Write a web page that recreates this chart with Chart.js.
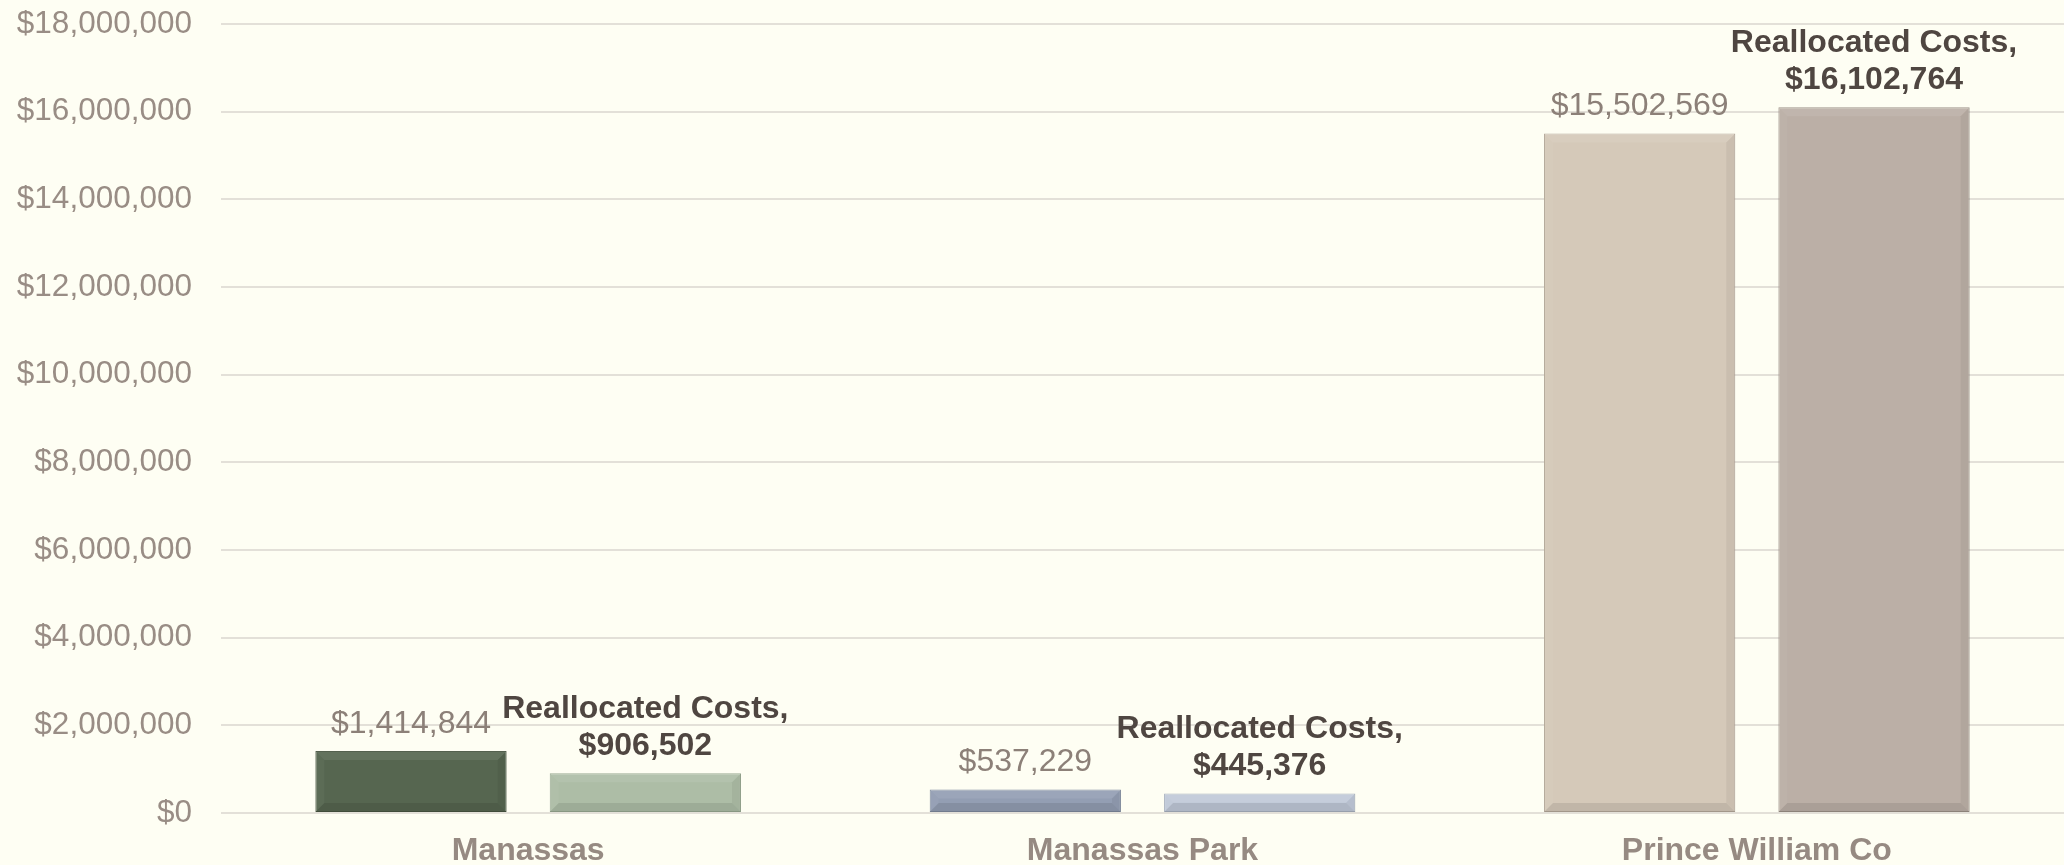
<!DOCTYPE html>
<html>
<head>
<meta charset="utf-8">
<script src="https://cdn.jsdelivr.net/npm/chart.js@4/dist/chart.umd.min.js"></script>
<style>
  html, body { margin: 0; padding: 0; background: #fefef3; }
  #wrap { width: 2064px; height: 865px; }
</style>
</head>
<body>
<div id="wrap"><canvas id="c" width="2064" height="865"></canvas></div>
<script>
const categories = ['Manassas', 'Manassas Park', 'Prince William Co'];
const seriesNames = ['Original Costs', 'Reallocated Costs'];
const originalCosts = [1414844, 537229, 15502569];
const reallocatedCosts = [906502, 445376, 16102764];
const originalColors = ['#566650', '#939eb3', '#d5c9b9'];
const reallocatedColors = ['#adbda6', '#c0c9d8', '#bbafa6'];
const originalBorders = ['#46533f', '#7d889c', '#b3a798'];
const reallocatedBorders = ['#96a68f', '#a6afbd', '#9a8f86'];
const yMin = 0, yMax = 18000000, yStep = 2000000;

const FONT = '"Liberation Sans", Arial, Helvetica, sans-serif';
const money = v => '$' + Math.round(v).toLocaleString('en-US');

const bevelPlugin = {
  id: 'bevel',
  afterDatasetsDraw(chart) {
    const ctx = chart.ctx;
    chart.data.datasets.forEach((ds, di) => {
      const meta = chart.getDatasetMeta(di);
      meta.data.forEach(bar => {
        const l = bar.x - bar.width / 2, r = bar.x + bar.width / 2;
        const t = Math.min(bar.y, bar.base), b = Math.max(bar.y, bar.base);
        const bv = Math.min(9, (b - t) / 2, (r - l) / 2);
        ctx.save();
        const poly = (pts, fill) => {
          ctx.beginPath();
          ctx.moveTo(pts[0][0], pts[0][1]);
          for (let i = 1; i < pts.length; i++) ctx.lineTo(pts[i][0], pts[i][1]);
          ctx.closePath();
          ctx.fillStyle = fill;
          ctx.fill();
        };
        poly([[l, t], [r, t], [r - bv, t + bv], [l + bv, t + bv]], 'rgba(255,255,255,0.08)');
        poly([[l, t], [l + bv, t + bv], [l + bv, b - bv], [l, b]], 'rgba(255,255,255,0.04)');
        poly([[r, t], [r, b], [r - bv, b - bv], [r - bv, t + bv]], 'rgba(0,0,0,0.05)');
        poly([[l, b], [l + bv, b - bv], [r - bv, b - bv], [r, b]], 'rgba(0,0,0,0.09)');
        ctx.restore();
      });
    });
  }
};

const labelPlugin = {
  id: 'valueLabels',
  afterDatasetsDraw(chart) {
    const ctx = chart.ctx;
    ctx.save();
    ctx.textAlign = 'center';
    ctx.textBaseline = 'alphabetic';
    const m0 = chart.getDatasetMeta(0);
    m0.data.forEach((bar, i) => {
      ctx.font = '32px ' + FONT;
      ctx.fillStyle = '#8c8078';
      ctx.fillText(money(originalCosts[i]), bar.x, bar.y - 18);
    });
    const m1 = chart.getDatasetMeta(1);
    m1.data.forEach((bar, i) => {
      ctx.font = 'bold 32px ' + FONT;
      ctx.fillStyle = '#4f4641';
      ctx.fillText(seriesNames[1] + ',', bar.x, bar.y - 18 - 37);
      ctx.fillText(money(reallocatedCosts[i]), bar.x, bar.y - 18);
    });
    ctx.restore();
  }
};

new Chart(document.getElementById('c'), {
  type: 'bar',
  data: {
    labels: categories,
    datasets: [
      {
        label: seriesNames[0],
        data: originalCosts,
        backgroundColor: originalColors,
        borderColor: originalBorders,
        borderWidth: 1,
        borderSkipped: false,
        categoryPercentage: 0.763,
        barPercentage: 0.816
      },
      {
        label: seriesNames[1],
        data: reallocatedCosts,
        backgroundColor: reallocatedColors,
        borderColor: reallocatedBorders,
        borderWidth: 1,
        borderSkipped: false,
        categoryPercentage: 0.763,
        barPercentage: 0.816
      }
    ]
  },
  options: {
    responsive: false,
    animation: false,
    devicePixelRatio: 1,
    layout: { padding: { top: 24, right: 0, bottom: 0, left: 0 } },
    plugins: {
      legend: { display: false },
      tooltip: { enabled: false }
    },
    scales: {
      x: {
        grid: { display: false },
        border: { display: false },
        ticks: {
          color: '#968a82',
          font: { family: FONT, size: 32, weight: 'bold' },
          padding: 11,
          maxRotation: 0
        },
        afterFit(scale) { scale.height = 52; scale.paddingLeft = 0; scale.paddingRight = 0; }
      },
      y: {
        min: yMin,
        max: yMax,
        border: { display: false },
        grid: { color: '#e3e0d8', lineWidth: 2, drawTicks: false },
        ticks: {
          stepSize: yStep,
          color: '#998d85',
          font: { family: FONT, size: 31.5 },
          padding: 29,
          callback: v => money(v)
        },
        afterFit(scale) { scale.width = 221; scale.paddingTop = 0; scale.paddingBottom = 0; }
      }
    }
  },
  plugins: [bevelPlugin, labelPlugin]
});
</script>
</body>
</html>
